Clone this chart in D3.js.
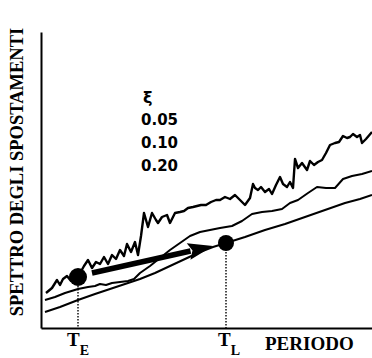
<!DOCTYPE html>
<html><head><meta charset="utf-8">
<script src="https://cdn.jsdelivr.net/npm/d3@7"></script>
<style>html,body{margin:0;padding:0;background:#fff;}svg{display:block;}</style>
</head><body>
<svg id="chart" width="372" height="358"></svg>
<script>
// Periods (s) and spectral displacements (arbitrary units)
const periods005 = [0.05,0.11,0.16,0.19,0.22,0.26,0.30,0.37,0.43,0.47,0.51,0.55,0.59,0.63,0.67,0.71,0.75,0.79,0.83,0.86,0.90,0.94,0.97,1.00,1.03,1.07,1.11,1.15,1.17,1.21,1.26,1.29,1.34,1.39,1.43,1.47,1.52,1.56,1.60,1.65,1.70,1.75,1.79,1.84,1.89,1.94,1.99,2.04,2.09,2.12,2.14,2.17,2.20,2.24,2.28,2.31,2.35,2.39,2.42,2.46,2.49,2.52,2.54,2.57,2.61,2.66,2.69,2.73,2.77,2.81,2.85,2.89,2.94,2.98,3.02,3.06,3.09,3.12,3.16,3.19,3.21,3.25,3.31];
const values005 = [0.35,0.40,0.48,0.43,0.49,0.52,0.47,0.51,0.62,0.68,0.60,0.66,0.64,0.71,0.64,0.73,0.69,0.78,0.72,0.84,0.76,0.86,0.73,0.92,1.15,1.01,1.15,1.08,1.05,1.11,1.13,1.05,1.15,1.16,1.17,1.20,1.21,1.22,1.23,1.23,1.26,1.28,1.28,1.31,1.29,1.33,1.28,1.23,1.30,1.44,1.40,1.38,1.41,1.36,1.39,1.34,1.43,1.51,1.44,1.41,1.46,1.40,1.69,1.60,1.65,1.58,1.67,1.63,1.66,1.68,1.75,1.83,1.85,1.86,1.92,1.90,1.91,1.94,1.91,1.93,1.85,1.89,1.96];
const periods010 = [0.04,0.14,0.24,0.37,0.47,0.54,0.59,0.65,0.71,0.79,0.87,0.93,0.99,1.09,1.19,1.29,1.39,1.49,1.59,1.69,1.79,1.91,2.01,2.11,2.21,2.31,2.41,2.49,2.57,2.67,2.76,2.85,2.94,3.02,3.11,3.21,3.31];
const values010 = [0.28,0.31,0.35,0.39,0.41,0.42,0.44,0.43,0.45,0.46,0.47,0.49,0.55,0.62,0.70,0.78,0.85,0.92,0.96,0.98,1.00,1.02,1.07,1.14,1.16,1.17,1.19,1.25,1.28,1.35,1.41,1.40,1.40,1.49,1.52,1.54,1.57];
const periods020 = [0.04,0.19,0.37,0.54,0.69,0.84,0.99,1.14,1.29,1.44,1.59,1.72,1.85,2.04,2.24,2.44,2.64,2.84,3.04,3.19,3.31];
const values020 = [0.16,0.21,0.28,0.34,0.39,0.44,0.49,0.55,0.62,0.69,0.76,0.81,0.85,0.91,0.98,1.04,1.11,1.18,1.25,1.29,1.33];
const legendTitle = "ξ";
const legendLabels = ["0.05","0.10","0.20"];
const periodTE = 0.37, dispTE = 0.51;
const periodTL = 1.85, dispTL = 0.85;
const arrowStart = [0.51, 0.55], arrowEnd = [1.72, 0.82];
const xLabel = "PERIODO", yLabel = "SPETTRO DEGLI SPOSTAMENTI";

const svg = d3.select("#chart");
const x = d3.scaleLinear().domain([0, 3.31]).range([41, 372]);
const y = d3.scaleLinear().domain([0, 2.96]).range([328, 32]);

const line = d3.line().x(d => x(d[0])).y(d => y(d[1]));
const series = [
  {p: periods005, v: values005, w: 2.4},
  {p: periods010, v: values010, w: 2},
  {p: periods020, v: values020, w: 2}
];
series.forEach(s => {
  svg.append("path").datum(s.p.map((p,i)=>[p, s.v[i]]))
    .attr("d", line).attr("fill","none").attr("stroke","#000")
    .attr("stroke-width", s.w).attr("stroke-linejoin","round");
});

// axes
const xAxis = d3.axisBottom(x).tickValues([]).tickSize(0).tickSizeOuter(0);
const yAxis = d3.axisLeft(y).tickValues([]).tickSize(0).tickSizeOuter(0);
svg.append("g").attr("transform","translate(0,328)").call(xAxis)
  .select(".domain").attr("stroke","#000").attr("stroke-width",2);
svg.append("g").attr("transform","translate(41,0)").call(yAxis)
  .select(".domain").attr("stroke","#000").attr("stroke-width",2);

// dotted verticals
[[periodTE, dispTE],[periodTL, dispTL]].forEach(d => {
  svg.append("line").attr("x1",x(d[0])).attr("x2",x(d[0]))
    .attr("y1",y(d[1])).attr("y2",y(0))
    .attr("stroke","#000").attr("stroke-width",1.4).attr("stroke-dasharray","1.5,1.5");
});

// arrow (shaft + head drawn from the data end points through the scales)
const sx = x(arrowStart[0]), sy = y(arrowStart[1]);
const ex = x(arrowEnd[0]), ey = y(arrowEnd[1]);
const len = Math.hypot(ex - sx, ey - sy);
const ux = (ex - sx) / len, uy = (ey - sy) / len;
const headLen = 25, headHalf = 8.5;
const bx = ex - ux * headLen, by = ey - uy * headLen;
svg.append("line").attr("x1",sx).attr("y1",sy).attr("x2",bx + ux*2).attr("y2",by + uy*2)
  .attr("stroke","#000").attr("stroke-width",5.5);
svg.append("path")
  .attr("d", `M${ex},${ey} L${bx - uy*headHalf},${by + ux*headHalf} L${bx + ux*4},${by + uy*4} L${bx + uy*headHalf},${by - ux*headHalf} Z`)
  .attr("fill","#000");

// dots
svg.append("circle").attr("cx",x(periodTE)).attr("cy",y(dispTE)).attr("r",9).attr("fill","#000");
svg.append("circle").attr("cx",x(periodTL)).attr("cy",y(dispTL)).attr("r",8).attr("fill","#000");

// legend
const lg = svg.append("g").attr("font-family","DejaVu Sans").attr("font-weight","bold").attr("fill","#000");
lg.append("text").attr("x",143).attr("y",103).attr("font-size",16).text(legendTitle);
legendLabels.forEach((t,i)=>{
  lg.append("text").attr("x",141).attr("y",125 + i*23).attr("font-size",15).text(t);
});

// labels
const serif = "Liberation Serif";
svg.append("text").attr("transform","translate(23,172) rotate(-90)").attr("text-anchor","middle")
  .attr("font-family",serif).attr("font-weight","bold").attr("font-size",18.5).text(yLabel);
svg.append("text").attr("x",265).attr("y",350).attr("font-family",serif).attr("font-weight","bold")
  .attr("font-size",19).text(xLabel);
function tsub(px, main, sub){
  const t = svg.append("text").attr("x",px).attr("y",346).attr("font-family",serif).attr("font-weight","bold").attr("font-size",19);
  t.append("tspan").text(main);
  t.append("tspan").attr("dy",9).attr("font-size",14).text(sub);
}
tsub(x(periodTE)-11, "T", "E");
tsub(x(periodTL)-8, "T", "L");
</script>
</body></html>
